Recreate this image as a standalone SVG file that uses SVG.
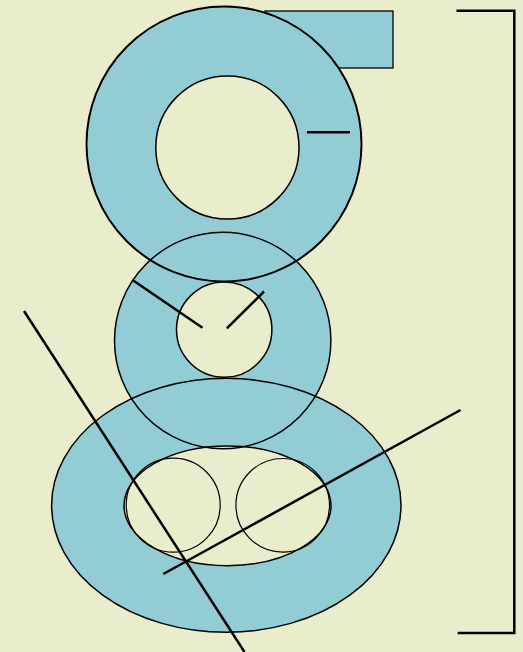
<svg xmlns="http://www.w3.org/2000/svg" width="523" height="652" viewBox="0 0 523 652">
<style>
.blue{fill:#92CDD6;stroke:none}
.bg{fill:#EAEDCC;stroke:none}
.ol{fill:none;stroke:#000}
.thick{stroke-width:2}
.thin{stroke-width:1.5}
.ln{stroke:#000;stroke-width:2.5;fill:none}
</style>
<rect width="523" height="652" fill="#EAEDCC"/>
<g id="top-body">
<rect x="265" y="11" width="128" height="57" fill="#92CDD6" stroke="#000" stroke-width="1.3"/>
<circle class="blue" cx="224" cy="144" r="137.5"/>
</g>
<g id="middle-body">
<circle class="blue" cx="222.7" cy="340.5" r="108.2"/>
</g>
<g id="bottom-body">
<ellipse class="blue" cx="226.3" cy="505.3" rx="174.7" ry="127"/>
</g>
<g id="holes">
<circle class="bg" cx="227.4" cy="147.5" r="71.6"/>
<circle class="bg" cx="224.2" cy="329.6" r="47.7"/>
<ellipse class="bg" cx="227.5" cy="505.8" rx="103.5" ry="59.9"/>
</g>
<g id="outlines">
<circle class="ol thick" cx="224" cy="144" r="137.5"/>
<circle class="ol thin" cx="227.4" cy="147.5" r="71.6"/>
<circle class="ol thin" cx="222.7" cy="340.5" r="108.2"/>
<circle class="ol thin" cx="224.2" cy="329.6" r="47.7"/>
<ellipse class="ol thin" cx="226.3" cy="505.3" rx="174.7" ry="127"/>
<ellipse class="ol thin" cx="227.5" cy="505.8" rx="103.5" ry="59.9"/>
<circle id="left-circle" class="ol" stroke-width="1.2" cx="173.2" cy="505.2" r="47"/>
<circle id="right-circle" class="ol" stroke-width="1.2" cx="282.7" cy="505.3" r="46.8"/>
</g>
<g id="connectors">
<line class="ln" x1="307" y1="132.3" x2="350" y2="132.3"/>
<line class="ln" x1="132.5" y1="280" x2="202.5" y2="327.8"/>
<line class="ln" x1="264" y1="291.5" x2="226.8" y2="328.3"/>
<line class="ln" x1="24" y1="311" x2="244.5" y2="652"/>
<line class="ln" x1="163.3" y1="574" x2="460.5" y2="410"/>
<polyline class="ln" points="456.5,10.7 514.3,10.7 514.3,633 457.7,633"/>
</g>
</svg>
